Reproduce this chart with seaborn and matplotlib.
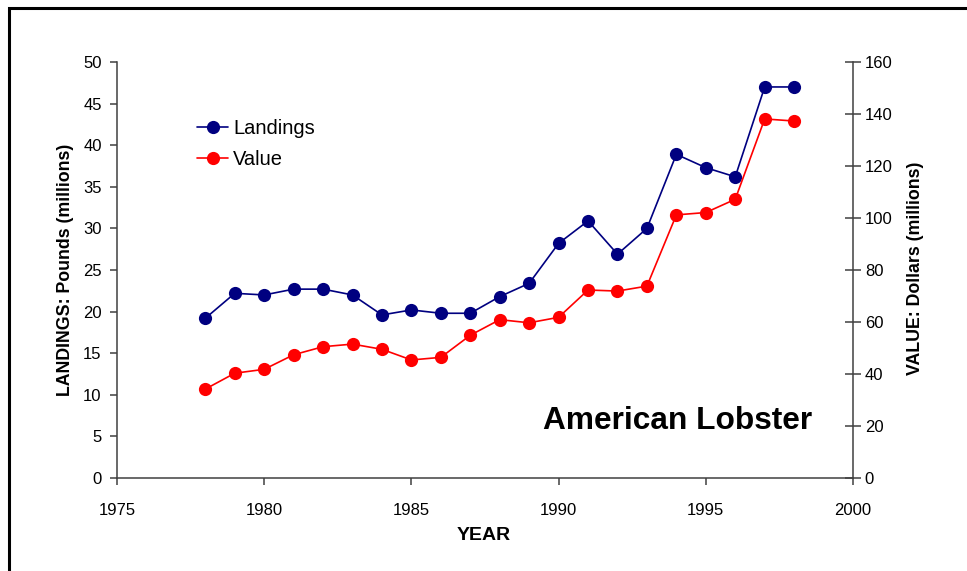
import matplotlib
matplotlib.use("Agg")
import matplotlib.pyplot as plt
from matplotlib.patches import Rectangle
import seaborn as sns
import pandas as pd

years = [1978, 1979, 1980, 1981, 1982, 1983, 1984, 1985, 1986, 1987, 1988,
         1989, 1990, 1991, 1992, 1993, 1994, 1995, 1996, 1997, 1998]
landings = [19.2, 22.2, 22.0, 22.7, 22.7, 22.0, 19.6, 20.2, 19.8, 19.8, 21.8,
            23.4, 28.2, 30.9, 26.9, 30.0, 38.9, 37.3, 36.2, 47.0, 47.0]
value = [34.2, 40.3, 41.8, 47.4, 50.5, 51.5, 49.5, 45.4, 46.4, 54.9, 60.9,
         59.7, 61.8, 72.3, 71.9, 73.8, 101.2, 102.1, 107.2, 138.1, 137.3]

x_ticks = [1975, 1980, 1985, 1990, 1995, 2000]
left_ticks = [0, 5, 10, 15, 20, 25, 30, 35, 40, 45, 50]
right_ticks = [0, 20, 40, 60, 80, 100, 120, 140, 160]

df = pd.DataFrame({"YEAR": years, "Landings": landings, "Value": value})

sns.set_theme(style="white")
plt.rcParams["font.family"] = ["Liberation Sans", "DejaVu Sans"]
plt.rcParams["text.color"] = "black"
plt.rcParams["axes.labelcolor"] = "black"

W, H = 967, 571
fig = plt.figure(figsize=(W / 100, H / 100), dpi=100)
ax = fig.add_axes([117 / W, 1 - 478 / H, (853 - 117) / W, (478 - 62) / H])
ax2 = ax.twinx()

navy = "#000080"
red = "#FF0000"
axis_col = "#404040"

sns.lineplot(data=df, x="YEAR", y="Landings", ax=ax, color=navy, marker="o",
             markersize=9.5, markeredgewidth=0, linewidth=1.2, label="Landings",
             legend=False)
sns.lineplot(data=df, x="YEAR", y="Value", ax=ax2, color=red, marker="o",
             markersize=9.5, markeredgewidth=0, linewidth=1.2, label="Value",
             legend=False)

ax.set_xlim(1975, 2000)
ax.set_ylim(0, 50)
ax2.set_ylim(0, 160)
ax.set_xticks(x_ticks)
ax.set_yticks(left_ticks)
ax2.set_yticks(right_ticks)

for a in (ax, ax2):
    a.set_facecolor("none")
    for s in a.spines.values():
        s.set_visible(False)
    a.grid(False)

ax.spines["left"].set_visible(True)
ax.spines["bottom"].set_visible(True)
ax2.spines["right"].set_visible(True)
for a, side in ((ax, "left"), (ax, "bottom"), (ax2, "right")):
    a.spines[side].set_color(axis_col)
    a.spines[side].set_linewidth(1.1)

ax.tick_params(axis="x", direction="out", length=5, width=1.1, color=axis_col,
               pad=13, labelsize=12, labelcolor="black", bottom=True)
ax.tick_params(axis="y", direction="out", length=5, width=1.1, color=axis_col,
               pad=6, labelsize=12, labelcolor="black", left=True)
ax2.tick_params(axis="y", direction="inout", length=11, width=1.1, color=axis_col,
                pad=3, labelsize=12, labelcolor="black", right=True)

ax.set_xlabel("YEAR", fontsize=14, fontweight="bold")
ax.set_ylabel("LANDINGS: Pounds (millions)", fontsize=12.8, fontweight="bold")
ax2.set_ylabel("VALUE: Dollars (millions)", fontsize=12.8, fontweight="bold")

# place axis titles by figure pixel position
for lab in (ax.xaxis.label, ax.yaxis.label, ax2.yaxis.label):
    lab.set_rotation_mode("default")
    lab.set_ha("center")
    lab.set_va("center")
ax.xaxis.set_label_coords(484 / W, 1 - 535 / H, transform=fig.transFigure)
ax.yaxis.set_label_coords(66 / W, 1 - 270 / H, transform=fig.transFigure)
ax2.yaxis.set_label_coords(915 / W, 1 - 268 / H, transform=fig.transFigure)

ax.text(1994.05, 5.9, "American Lobster", fontsize=22.8, fontweight="bold",
        ha="center", va="baseline")

handles = ax.get_lines()[:1] + ax2.get_lines()[:1]
leg = ax.legend(handles, ["Landings", "Value"], loc="upper left",
                bbox_to_anchor=(197 / W, 1 - 119 / H), bbox_transform=fig.transFigure,
                frameon=False, fontsize=14.5, handlelength=1.55, handletextpad=0.25,
                labelspacing=0.58, borderpad=0, borderaxespad=0)

# outer frame of the figure
fig.patches.append(Rectangle((9 / W, -0.1), 1.2, (1 - 8 / H) + 0.1,
                             transform=fig.transFigure, fill=False,
                             edgecolor="black", linewidth=2.2, zorder=10))

fig.savefig("out.png", dpi=100)
